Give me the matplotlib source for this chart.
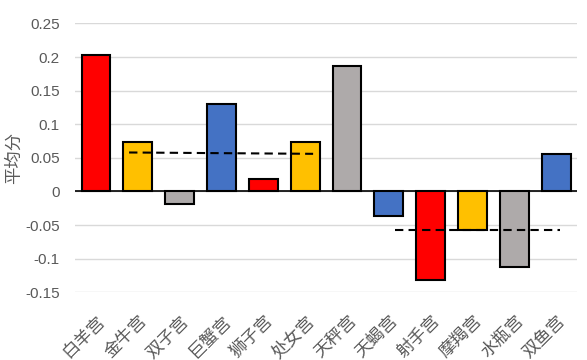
import matplotlib
matplotlib.use("Agg")
import matplotlib.pyplot as plt
import numpy as np

plt.rcParams['font.family'] = ['Noto Sans CJK SC', 'DejaVu Sans']

categories = ["白羊宫", "金牛宫", "双子宫", "巨蟹宫", "狮子宫", "处女宫",
              "天秤宫", "天蝎宫", "射手宫", "摩羯宫", "水瓶宫", "双鱼宫"]
values = [0.203, 0.074, -0.019, 0.130, 0.018, 0.074,
          0.186, -0.037, -0.131, -0.057, -0.112, 0.055]
bar_colors = ["#FF0000", "#FFC000", "#AEAAAA", "#4472C4"] * 3

# dashed reference lines: (x start, x end, y start, y end) in category units
line1_x = [0.79, 5.19]
line1_y = [0.058, 0.056]
line2_x = [7.15, 11.1]
line2_y = [-0.057, -0.057]

yticks = [-0.15, -0.1, -0.05, 0, 0.05, 0.1, 0.15, 0.2, 0.25]
ytick_labels = ["-0.15", "-0.1", "-0.05", "0", "0.05", "0.1", "0.15", "0.2", "0.25"]

fig = plt.figure(figsize=(5.87, 3.6), dpi=100)
ax = fig.add_axes([0.128, 0.188, 0.855, 0.747])

x = np.arange(len(categories))
ax.bar(x, values, width=0.69, color=bar_colors, edgecolor="black", linewidth=1.5, zorder=3)
ax.plot(line1_x, line1_y, linestyle=(0, (4, 2.5)), color="black", linewidth=1.5, zorder=4)
ax.plot(line2_x, line2_y, linestyle=(0, (4, 2.5)), color="black", linewidth=1.5, zorder=4)

ax.set_xlim(-0.5, len(categories) - 0.5)
ax.set_ylim(-0.15, 0.25)
ax.set_yticks(yticks)
ax.set_yticklabels(ytick_labels, fontsize=11, color="#595959", family=["Liberation Sans"])
ax.yaxis.grid(True, color="#D9D9D9", linewidth=1.0, zorder=0)
ax.set_axisbelow(True)
ax.axhline(0, color="black", linewidth=1.2, zorder=2)
for s in ax.spines.values():
    s.set_visible(False)
ax.tick_params(axis='both', length=0)
ax.tick_params(axis='y', pad=11)

ax.set_xticks(x)
ax.set_xticklabels(categories, rotation=45, ha='right', rotation_mode='anchor',
                   fontsize=12.5, color="#595959")
ax.tick_params(axis='x', pad=14)

ax.set_ylabel("平均分", fontsize=12.5, color="#595959")
ax.yaxis.set_label_coords(-0.1215, 0.5)
ax.yaxis.label.set_va('center')

fig.savefig("out.png", dpi=100)
